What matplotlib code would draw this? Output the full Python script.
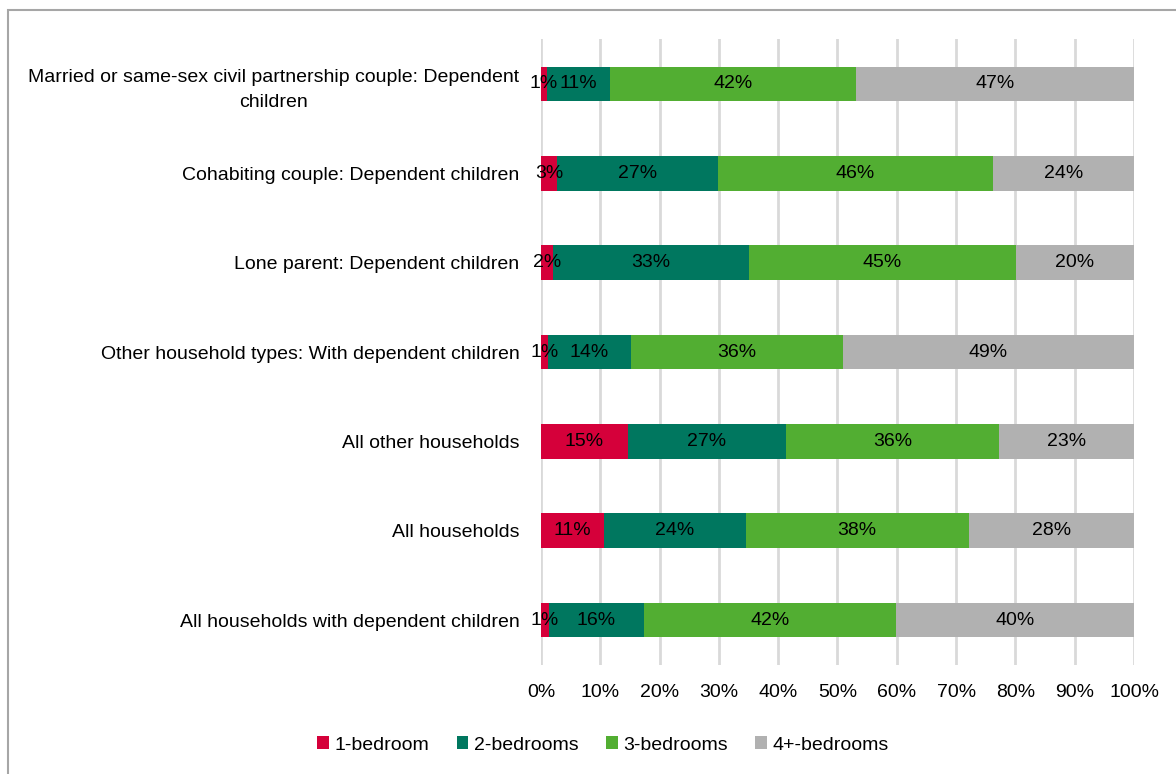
import matplotlib
matplotlib.use("Agg")
import matplotlib.pyplot as plt
from matplotlib import font_manager
from matplotlib.patches import Rectangle

names = {f.name for f in font_manager.fontManager.ttflist}
FONT = "Liberation Sans Narrow" if "Liberation Sans Narrow" in names else "Liberation Sans"
plt.rcParams['font.family'] = [FONT, 'DejaVu Sans']

categories = [
    "Married or same-sex civil partnership couple: Dependent\nchildren",
    "Cohabiting couple: Dependent children",
    "Lone parent: Dependent children",
    "Other household types: With dependent children",
    "All other households",
    "All households",
    "All households with dependent children",
]
series_names = ["1-bedroom", "2-bedrooms", "3-bedrooms", "4+-bedrooms"]
one_bed = [1.0, 2.7, 2.0, 1.2, 14.6, 10.6, 1.3]
two_bed = [10.6, 27.1, 33.1, 14.0, 26.8, 23.9, 16.1]
three_bed = [41.6, 46.4, 45.0, 35.7, 35.9, 37.6, 42.5]
four_bed = [46.8, 23.8, 19.9, 49.1, 22.7, 27.9, 40.1]
xtick_values = list(range(0, 101, 10))

colors = ["#D5003A", "#00775F", "#52AE32", "#B1B1B1"]
FS = 14

fig = plt.figure(figsize=(11.76, 7.74), dpi=100)
ax = fig.add_axes([0.46, 0.1412, 0.5043, 0.808])

# border
fig.patches.append(Rectangle((8/1176, -0.1), 1.2, 1 - 10/774 + 0.1, transform=fig.transFigure,
                             fill=False, edgecolor="#A6A6A6", linewidth=1.5, zorder=-5))

ypos = list(range(len(categories)))
left = [0.0] * len(categories)
for vals, name, col in zip([one_bed, two_bed, three_bed, four_bed], series_names, colors):
    ax.barh(ypos, vals, left=left, height=0.39, color=col, label=name, zorder=3)
    for y, v, l in zip(ypos, vals, left):
        ax.text(l + v / 2, y, f"{v:.0f}%", ha="center", va="center", fontsize=FS, color="black", zorder=4)
    left = [a + b for a, b in zip(left, vals)]

ax.set_xlim(0, 100)
ax.set_ylim(len(categories) - 0.5, -0.5)
ax.set_xticks(xtick_values)
ax.set_xticklabels([f"{v}%" for v in xtick_values], fontsize=FS)
ax.set_yticks(ypos)
ax.set_yticklabels(categories, fontsize=FS, multialignment="center", linespacing=1.6)
ax.tick_params(axis="both", length=0)
ax.tick_params(axis="y", pad=15.5)
ax.tick_params(axis="x", pad=14)
ax.grid(axis="x", color="#D9D9D9", linewidth=2, zorder=0)
for s in ax.spines.values():
    s.set_visible(False)

fig.legend(loc="center", bbox_to_anchor=(0.513, 1 - 745/774), ncol=4, frameon=False,
           fontsize=FS, handlelength=0.6, handleheight=0.6, columnspacing=1.4, handletextpad=0.3)

fig.savefig("out.png", dpi=100)
